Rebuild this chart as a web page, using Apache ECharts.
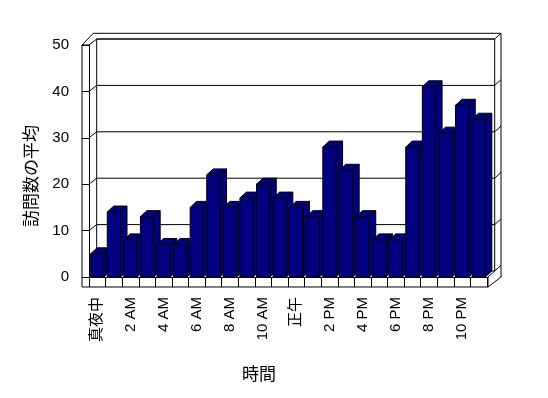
<!DOCTYPE html>
<html><head><meta charset="utf-8">
<script src="https://cdn.jsdelivr.net/npm/echarts@6/dist/echarts.min.js"></script>
<style>html,body{margin:0;padding:0;background:#fff}#c{width:548px;height:398px}</style>
</head><body><div id="c"></div>
<script>
const hours = ['真夜中','1 AM','2 AM','3 AM','4 AM','5 AM','6 AM','7 AM','8 AM','9 AM','10 AM','11 AM',
               '正午','1 PM','2 PM','3 PM','4 PM','5 PM','6 PM','7 PM','8 PM','9 PM','10 PM','11 PM'];
const visits = [5,14,8,13,7,7,15,22,15,17,20,17,15,13,28,23,13,8,8,28,41,31,37,34];
const yTicks = [0,10,20,30,40,50];
const xTitle = '時間';
const yTitle = '訪問数の平均';

const FONT = "'Liberation Sans','Noto Sans CJK JP',sans-serif";
const CJK = "'Noto Sans CJK JP',sans-serif";
const DX = 7.7, DY = -6;      // front plane -> back wall surface
const WX = 6.3, WY = -5.7;    // back wall thickness
const BDX = 6.5, BDY = -6;    // bar depth
const LW = 7, FL = 10;        // left wall / floor front thickness
const NAVY = '#000080';
const line = {stroke:'#000', fill:null, lineWidth:1};

function renderGrid(params, api){
  const cs = params.coordSys;
  const L = cs.x, R = cs.x + cs.width;
  const y = api.coord([0, api.value(1)])[1];
  const yb = y + DY;
  return {type:'polyline', shape:{points:[[L,y],[L+DX,yb],[R+DX,yb],[R+DX+WX,yb+WY]]}, style:line};
}
function renderWalls(params, api){
  const cs = params.coordSys;
  const L = cs.x, R = cs.x + cs.width, T = cs.y, B = cs.y + cs.height;
  const BX = R + DX + WX, BY = T + DY + WY;
  return {type:'group', children:[
    {type:'polyline', shape:{points:[[L+DX,B+DY],[L+DX,T+DY],[R+DX,T+DY],[R+DX,B+DY]]}, style:line},
    {type:'polyline', shape:{points:[[L-LW,T],[L-LW+11.3,BY],[BX,BY],[BX,B],[R+1,B+FL]]}, style:line},
    {type:'polyline', shape:{points:[[R+1,B],[R+DX,B+DY]]}, style:line}
  ]};
}
function renderFront(params, api){
  const cs = params.coordSys;
  const L = cs.x, R = cs.x + cs.width, T = cs.y, B = cs.y + cs.height;
  return {type:'polyline', shape:{points:[[L,T],[L-LW,T],[L-LW,B+FL],[R+1,B+FL],[R+1,B]]}, style:line};
}
function renderBar(params, api){
  const i = api.value(0), v = api.value(1);
  const top = api.coord([i, v]), bot = api.coord([i, 0]);
  const w = api.size([1, 0])[0] * 0.8;
  const x0 = top[0] - w/2, x1 = top[0] + w/2, y0 = top[1], y1 = bot[1];
  const st = {fill:NAVY, stroke:'#000', lineWidth:1};
  return {type:'group', children:[
    {type:'polygon', shape:{points:[[x1,y0],[x1+BDX,y0+BDY],[x1+BDX,y1+BDY],[x1,y1]]}, style:st},
    {type:'polygon', shape:{points:[[x0,y0],[x0+BDX,y0+BDY],[x1+BDX,y0+BDY],[x1,y0]]}, style:st},
    {type:'rect', shape:{x:x0, y:y0, width:w, height:y1-y0}, style:st}
  ]};
}

const chart = echarts.init(document.getElementById('c'), null, {renderer:'canvas'});
chart.setOption({
  animation:false,
  backgroundColor:'#fff',
  grid:{left:89, right:61, top:45, bottom:121},
  xAxis:{
    type:'category', data:hours, boundaryGap:true,
    axisLine:{show:true, lineStyle:{color:'#000', width:1}},
    axisTick:{show:true, interval:0, length:10, lineStyle:{color:'#000'}},
    axisLabel:{interval:1, rotate:90, margin:20, fontSize:15, color:'#000', fontFamily:FONT},
    splitLine:{show:false},
    name:xTitle, nameLocation:'middle', nameGap:88,
    nameTextStyle:{fontSize:17, color:'#000', fontFamily:CJK, padding:[0,58,0,0]}
  },
  yAxis:{
    type:'value', min:0, max:50, interval:10,
    axisLine:{show:true, lineStyle:{color:'#000', width:1}},
    axisTick:{show:true, length:7, lineStyle:{color:'#000'}},
    axisLabel:{margin:20, fontSize:15, color:'#000', fontFamily:FONT},
    splitLine:{show:false},
    name:yTitle, nameLocation:'middle', nameGap:50, nameRotate:90,
    nameTextStyle:{fontSize:17, color:'#000', fontFamily:CJK, padding:[0,30,0,0]}
  },
  series:[
    {type:'custom', name:'walls', z:1, silent:true, renderItem:renderWalls, data:[[0,0]], encode:{x:0,y:1}},
    {type:'custom', name:'grid', z:1, silent:true, renderItem:renderGrid, data:yTicks.map(v=>[0,v]), encode:{x:0,y:1}},
    {type:'custom', name:'訪問数の平均', z:2, renderItem:renderBar, data:visits.map((v,i)=>[i,v]), encode:{x:0,y:1}},
    {type:'custom', name:'front', z:3, silent:true, renderItem:renderFront, data:[[0,0]], encode:{x:0,y:1}}
  ]
});
</script></body></html>
